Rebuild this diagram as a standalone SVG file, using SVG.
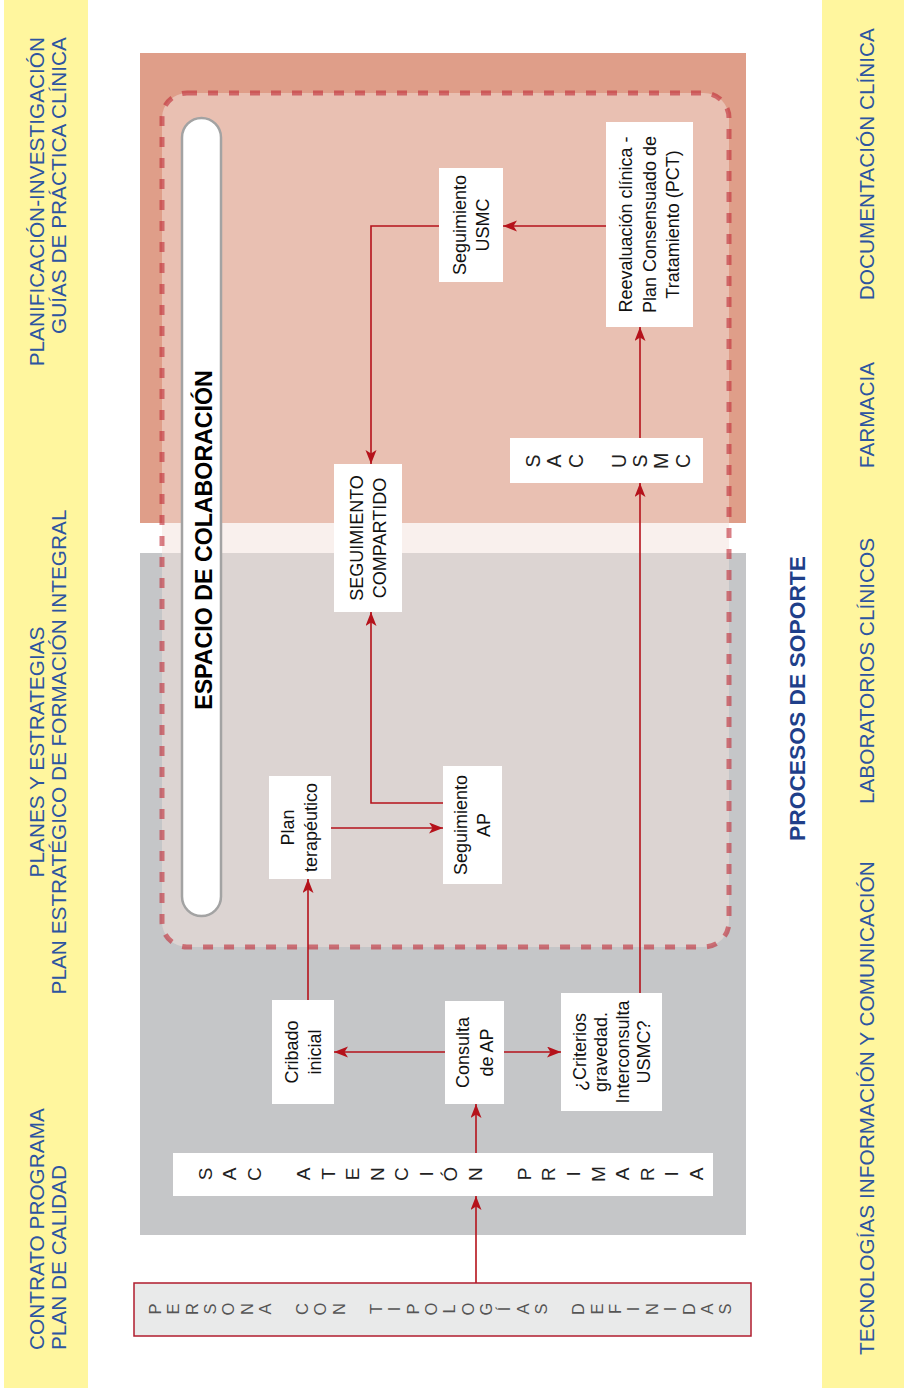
<svg xmlns="http://www.w3.org/2000/svg" width="904" height="1388" viewBox="0 0 904 1388">
<style>
.band{font-family:"Liberation Sans",Arial,sans-serif;font-size:20.8px;fill:#2d54a0}
.node{font-family:"Liberation Sans",Arial,sans-serif;font-size:18px;fill:#111;text-anchor:middle}
.sp{font-family:"Liberation Sans",Arial,sans-serif}
.box{fill:#fff}
.conn{fill:none;stroke:#b5121b;stroke-width:1.6;marker-end:url(#ah)}
</style>
<defs>
<marker id="ah" markerUnits="userSpaceOnUse" markerWidth="15" markerHeight="12" refX="14" refY="5.5" orient="auto">
<path d="M0,0 L14,5.5 L0,11 L3.5,5.5 Z" fill="#b5121b"/>
</marker>
</defs>
<rect width="904" height="1388" fill="#fff"/>
<g id="bands">
<rect x="4" y="0" width="84" height="1388" fill="#fff69e"/>
<rect x="822" y="0" width="82" height="1388" fill="#fff69e"/>
<text class="band" text-anchor="end" transform="translate(44.4,37) rotate(-90)">PLANIFICACIÓN-INVESTIGACIÓN</text>
<text class="band" text-anchor="end" transform="translate(66.4,37) rotate(-90)">GUÍAS DE PRÁCTICA CLÍNICA</text>
<text class="band" text-anchor="middle" transform="translate(44.4,752) rotate(-90)">PLANES Y ESTRATEGIAS</text>
<text class="band" text-anchor="middle" transform="translate(66.4,752) rotate(-90)">PLAN ESTRATÉGICO DE FORMACIÓN INTEGRAL</text>
<text class="band" text-anchor="start" transform="translate(44.4,1350) rotate(-90)">CONTRATO PROGRAMA</text>
<text class="band" text-anchor="start" transform="translate(66.4,1350) rotate(-90)">PLAN DE CALIDAD</text>
<text class="band" text-anchor="end" transform="translate(874,28) rotate(-90)">DOCUMENTACIÓN CLÍNICA</text>
<text class="band" text-anchor="middle" transform="translate(874,415) rotate(-90)">FARMACIA</text>
<text class="band" text-anchor="middle" transform="translate(874,671) rotate(-90)">LABORATORIOS CLÍNICOS</text>
<text class="band" text-anchor="start" transform="translate(874,1355) rotate(-90)">TECNOLOGÍAS INFORMACIÓN Y COMUNICACIÓN</text>
</g>
<g id="areas">
<rect x="140" y="53" width="606" height="470" fill="#df9e89"/>
<rect x="140" y="553" width="606" height="682" fill="#c5c6c8"/>
<rect x="162" y="93" width="567" height="854" rx="25" fill="#f3e2db" fill-opacity="0.5" stroke="#c02a35" stroke-opacity="0.6" stroke-width="5" stroke-dasharray="10 11"/>
<rect x="182" y="118" width="39" height="798" rx="19.5" fill="#fff" stroke="#a3a3a3" stroke-width="2.5"/>
<text font-family="Liberation Sans, Arial, sans-serif" font-weight="bold" font-size="23.2" fill="#000" text-anchor="middle" transform="translate(211.5,540) rotate(-90)">ESPACIO DE COLABORACIÓN</text>
<text font-family="Liberation Sans, Arial, sans-serif" font-weight="bold" font-size="22.8" fill="#1f3f8a" text-anchor="middle" transform="translate(805,698.5) rotate(-90)">PROCESOS DE SOPORTE</text>
</g>
<g id="connectors">
<path class="conn" d="M476,1283 V1196"/>
<path class="conn" d="M476,1153 V1104"/>
<path class="conn" d="M445,1052 H334"/>
<path class="conn" d="M504,1052 H561"/>
<path class="conn" d="M308,1000 V879"/>
<path class="conn" d="M331,828 H443"/>
<path class="conn" d="M443,803 H371 V612"/>
<path class="conn" d="M640,993 V483"/>
<path class="conn" d="M640,438 V327"/>
<path class="conn" d="M606,226 H503"/>
<path class="conn" d="M439,226 H371 V464"/>
</g>
<g id="persona">
<rect x="134" y="1283" width="617" height="53" fill="#e9eaea" stroke="#b01c2e" stroke-width="1.5"/>
<text class="sp" font-size="16.5" fill="#555" rotate="-90" x="160.9 179.3 197.7 216.1 234.5 252.9 271.3 289.7 308.1 326.5 344.9 363.3 381.7 400.1 418.5 436.9 455.3 473.7 492.1 510.5 528.9 547.3 565.7 584.1 602.5 620.9 639.3 657.7 676.1 694.5 712.9 731.3" y="1314.5 1314.5 1315 1314.5 1315.4 1315 1314.5 1309 1315 1315.4 1315 1309 1314 1311.3 1314.5 1315.4 1313.6 1315.4 1315.4 1311.3 1314.5 1314.5 1309 1315 1314.5 1314 1311.3 1315 1311.3 1315 1314.5 1314.5">PERSONA CON TIPOLOGÍAS DEFINIDAS</text>
</g>
<g id="sac-ap">
<rect x="173" y="1153" width="540" height="43" fill="#fff"/>
<text class="sp" font-size="19" fill="#222" rotate="-90" x="211.8 236.35 260.9 285.45 310 334.55 359.1 383.65 408.2 432.75 457.3 481.85 506.4 530.95 555.5 580.05 604.6 629.15 653.7 678.25 702.8" y="1180.3 1180.3 1180.9 1174 1180.3 1179.8 1180.3 1180.9 1180.9 1176.6 1181.4 1180.9 1174 1180.3 1180.9 1176.6 1181.9 1180.3 1180.9 1176.6 1180.3">SAC ATENCIÓN PRIMARIA</text>
</g>
<g id="cribado">
<rect class="box" x="272" y="1000" width="62" height="104"/>
<text class="node" transform="translate(297.5,1052) rotate(-90)"><tspan x="0" y="0">Cribado</tspan><tspan x="0" y="23.5">inicial</tspan></text>
</g>
<g id="consulta">
<rect class="box" x="445" y="1001" width="59" height="103"/>
<text class="node" transform="translate(469,1052.5) rotate(-90)"><tspan x="0" y="0">Consulta</tspan><tspan x="0" y="23.5">de AP</tspan></text>
</g>
<g id="criterios">
<rect class="box" x="561" y="993" width="101" height="118"/>
<text class="node" transform="translate(585.5,1052) rotate(-90)"><tspan x="0" y="0">¿Criterios</tspan><tspan x="0" y="21.5">gravedad.</tspan><tspan x="0" y="43">Interconsulta</tspan><tspan x="0" y="64.5">USMC?</tspan></text>
</g>
<g id="plan">
<rect class="box" x="269" y="776" width="62" height="103"/>
<text class="node" transform="translate(294,827.5) rotate(-90)"><tspan x="0" y="0">Plan</tspan><tspan x="0" y="22.5">terapéutico</tspan></text>
</g>
<g id="seg-ap">
<rect class="box" x="443" y="766" width="59" height="118"/>
<text class="node" transform="translate(467,825) rotate(-90)"><tspan x="0" y="0">Seguimiento</tspan><tspan x="0" y="23">AP</tspan></text>
</g>
<g id="seg-compartido">
<rect class="box" x="334" y="464" width="68" height="148"/>
<text class="node" transform="translate(362.5,538) rotate(-90)"><tspan x="0" y="0">SEGUIMIENTO</tspan><tspan x="0" y="23">COMPARTIDO</tspan></text>
</g>
<g id="sac-usmc">
<rect class="box" x="510" y="438" width="193" height="45"/>
<text class="sp" font-size="19.5" fill="#222" rotate="-90" x="540 561.4 582.8 604.2 625.6 647 668.4 689.8" y="467.5 467.5 468 461 468 467.5 469.1 468">SAC USMC</text>
</g>
<g id="seg-usmc">
<rect class="box" x="439" y="168" width="64" height="114"/>
<text class="node" transform="translate(466,225) rotate(-90)"><tspan x="0" y="0">Seguimiento</tspan><tspan x="0" y="23">USMC</tspan></text>
</g>
<g id="reevaluacion">
<rect class="box" x="606" y="122" width="87" height="205"/>
<text class="node" transform="translate(632,224.5) rotate(-90)"><tspan x="0" y="0">Reevaluación clínica -</tspan><tspan x="0" y="23.5">Plan Consensuado de</tspan><tspan x="0" y="47">Tratamiento (PCT)</tspan></text>
</g>
</svg>
